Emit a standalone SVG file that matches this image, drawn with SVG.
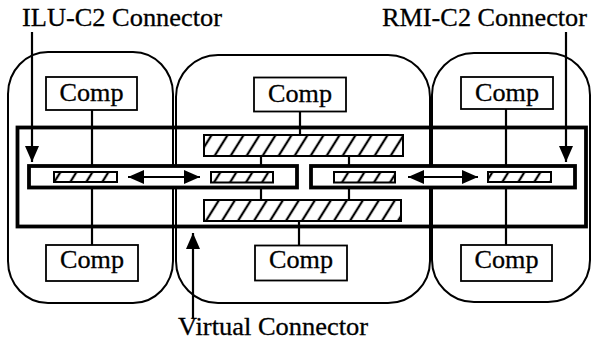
<svg xmlns="http://www.w3.org/2000/svg" width="594" height="345" viewBox="0 0 594 345">
<style>
.region{fill:none;stroke:#000;stroke-width:2}
.comp{fill:#fff;stroke:#000;stroke-width:1.8}
.thick{fill:none;stroke:#000;stroke-width:3.8}
.inner{fill:#fff;stroke:#000;stroke-width:3.8}
.hatch{fill:url(#hp);stroke:#000;stroke-width:2}
.wire{stroke:#000;stroke-width:2.2;fill:none}
.lbl{font-family:"Liberation Serif","Times New Roman",Times,serif;font-size:26px;fill:#000;stroke:#000;stroke-width:0.3}
.ct{font-family:"Liberation Serif","Times New Roman",Times,serif;font-size:26px;fill:#000;stroke:#000;stroke-width:0.3;text-anchor:middle}
</style>
<defs>
<pattern id="hp" patternUnits="userSpaceOnUse" width="16" height="10" patternTransform="skewX(-32)">
<rect width="16" height="10" fill="#fff"/>
<line x1="8" y1="-1" x2="8" y2="11" stroke="#000" stroke-width="2.6"/>
</pattern>
<marker id="ah" markerUnits="userSpaceOnUse" markerWidth="16" markerHeight="14" viewBox="0 0 16 14" refX="16" refY="7" orient="auto-start-reverse">
<path d="M0,0 L16,7 L0,14 z" fill="#000"/>
</marker>
</defs>

<g id="region-left"><rect class="region" x="8" y="52" width="165" height="251" rx="40" ry="42"/></g>
<g id="region-middle"><rect class="region" x="176" y="55" width="254" height="248" rx="42" ry="42"/></g>
<g id="region-right"><rect class="region" x="432" y="53" width="158" height="249" rx="42" ry="42"/></g>

<g id="connectors">
<line class="wire" x1="92" y1="110" x2="92" y2="245"/>
<line class="wire" x1="506" y1="109" x2="506" y2="245"/>
<line class="wire" x1="300" y1="111" x2="300" y2="135"/>
<line class="wire" x1="299" y1="221" x2="299" y2="245"/>
<line class="wire" x1="261" y1="156" x2="261" y2="200"/>
<line class="wire" x1="349" y1="156" x2="349" y2="200"/>
</g>

<g id="virtual-connector"><rect class="thick" x="17.5" y="127.5" width="568.5" height="99"/></g>
<g id="ilu-connector"><rect class="inner" x="29" y="166" width="268" height="21.5"/></g>
<g id="rmi-connector"><rect class="inner" x="311" y="166" width="264" height="21.5"/></g>

<g id="bar-top"><rect class="hatch" x="204" y="135" width="199" height="21"/></g>
<g id="bar-bottom"><rect class="hatch" x="204" y="200" width="197" height="21"/></g>
<g id="port-1"><rect class="hatch" x="54" y="172" width="63" height="10"/></g>
<g id="port-2"><rect class="hatch" x="211" y="172" width="62" height="10.5"/></g>
<g id="port-3"><rect class="hatch" x="334" y="172" width="61" height="10.5"/></g>
<g id="port-4"><rect class="hatch" x="488" y="172" width="63" height="10"/></g>

<g id="links">
<line class="wire" x1="128" y1="177" x2="200" y2="177" marker-start="url(#ah)" marker-end="url(#ah)"/>
<line class="wire" x1="408" y1="177" x2="478" y2="177" marker-start="url(#ah)" marker-end="url(#ah)"/>
<line class="wire" x1="32" y1="32" x2="32" y2="162" marker-end="url(#ah)"/>
<line class="wire" x1="566" y1="32" x2="566" y2="162" marker-end="url(#ah)"/>
<line class="wire" x1="193" y1="318" x2="193" y2="233" marker-end="url(#ah)"/>
</g>

<g id="comp-tl"><rect class="comp" x="46" y="77" width="91" height="33"/><text class="ct" x="91.5" y="101" textLength="64" lengthAdjust="spacingAndGlyphs">Comp</text></g>
<g id="comp-tm"><rect class="comp" x="254" y="77.5" width="92" height="34"/><text class="ct" x="300" y="102" textLength="64" lengthAdjust="spacingAndGlyphs">Comp</text></g>
<g id="comp-tr"><rect class="comp" x="461" y="77" width="92" height="32"/><text class="ct" x="507" y="100.5" textLength="64" lengthAdjust="spacingAndGlyphs">Comp</text></g>
<g id="comp-bl"><rect class="comp" x="46" y="245" width="92" height="36"/><text class="ct" x="92" y="267.5" textLength="64" lengthAdjust="spacingAndGlyphs">Comp</text></g>
<g id="comp-bm"><rect class="comp" x="255" y="245.5" width="92" height="35"/><text class="ct" x="301" y="267.5" textLength="64" lengthAdjust="spacingAndGlyphs">Comp</text></g>
<g id="comp-br"><rect class="comp" x="461" y="245" width="91" height="36"/><text class="ct" x="506.5" y="267.5" textLength="64" lengthAdjust="spacingAndGlyphs">Comp</text></g>

<g id="labels">
<text class="lbl" x="22" y="26" textLength="200" lengthAdjust="spacingAndGlyphs">ILU-C2 Connector</text>
<text class="lbl" x="382" y="26" textLength="205" lengthAdjust="spacingAndGlyphs">RMI-C2 Connector</text>
<text class="lbl" x="178" y="335" textLength="190" lengthAdjust="spacingAndGlyphs">Virtual Connector</text>
</g>
</svg>
